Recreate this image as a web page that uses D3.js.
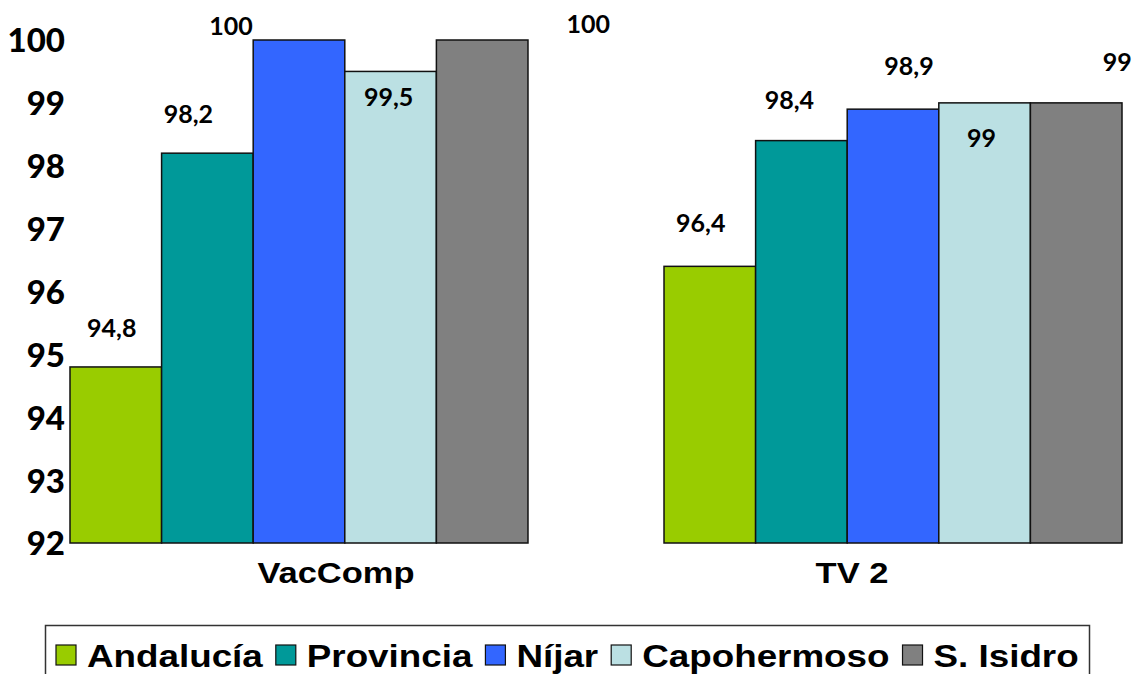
<!DOCTYPE html>
<html><head><meta charset="utf-8">
<script src="https://cdn.jsdelivr.net/npm/d3@7"></script>
<style>
html,body{margin:0;padding:0;background:#fff;}
svg{display:block;}
</style></head>
<body>
<svg id="chart" width="1138" height="674"></svg>
<script>
// ---- data ----
const categories = ["VacComp", "TV 2"];
const seriesNames = ["Andalucía", "Provincia", "Níjar", "Capohermoso", "S. Isidro"];
const andalucia = [94.8, 96.4];
const provincia = [98.2, 98.4];
const nijar = [100, 98.9];
const capohermoso = [99.5, 99];
const sIsidro = [100, 99];
const valueLabels = [
  ["94,8", "98,2", "100", "99,5", "100"],
  ["96,4", "98,4", "98,9", "99", "99"]
];
const yTicks = [92, 93, 94, 95, 96, 97, 98, 99, 100];

// ---- layout / style ----
const colors = ["#99CC00", "#009999", "#3366FF", "#BBE0E3", "#808080"];
// label offsets (dx from bar centre, dy from bar top) as placed in the original
const labelOffsets = [
  [[-4, -30], [-19, -30], [-68, -5], [-2, 35], [106, -7]],
  [[-9, -34], [-12, -32], [16, -34], [-3, 44], [41, -32]]
];
const catLabelDx = [37, -41];

const series = [andalucia, provincia, nijar, capohermoso, sIsidro];
const svg = d3.select("#chart");

const y = d3.scaleLinear().domain([92, 100]).range([543, 40]);
const x0 = d3.scaleBand().domain(categories).range([70, 1122]).paddingInner(0.229).paddingOuter(0);
const x1 = d3.scaleBand().domain(seriesNames).range([0, x0.bandwidth()]).padding(0);

// y axis tick labels
const yAxis = d3.axisLeft(y).tickValues(yTicks).tickSize(0).tickPadding(0).tickFormat(d3.format("d"));
const gy = svg.append("g").attr("transform", "translate(65,0)").call(yAxis);
gy.select(".domain").remove();
gy.selectAll("text")
  .attr("dy", "0.36em")
  .style("font-family", "Lato, 'Open Sans', sans-serif")
  .style("font-weight", 900)
  .style("font-size", "33px")
  .attr("fill", "#000");

// bars
const groups = svg.append("g").selectAll("g").data(categories).join("g")
  .attr("transform", c => `translate(${x0(c)},0)`);

groups.each(function(c, ci) {
  const g = d3.select(this);
  seriesNames.forEach((s, si) => {
    const v = series[si][ci];
    g.append("rect")
      .attr("x", x1(s))
      .attr("y", y(v))
      .attr("width", x1.bandwidth())
      .attr("height", y(92) - y(v))
      .attr("fill", colors[si])
      .attr("stroke", "#111")
      .attr("stroke-width", 1.5);
  });
  seriesNames.forEach((s, si) => {
    const v = series[si][ci];
    const off = labelOffsets[ci][si];
    g.append("text")
      .attr("x", x1(s) + x1.bandwidth() / 2 + off[0])
      .attr("y", y(v) + off[1])
      .attr("text-anchor", "middle")
      .style("font-family", "Lato, 'Open Sans', sans-serif")
      .style("font-weight", 700)
      .style("font-size", "25px")
      .attr("fill", "#000")
      .text(valueLabels[ci][si]);
  });
});

// category labels
categories.forEach((c, ci) => {
  svg.append("text")
    .attr("transform", `translate(${x0(c) + x0.bandwidth() / 2 + catLabelDx[ci]},583) scale(1.15,1)`)
    .attr("text-anchor", "middle")
    .style("font-family", "'Liberation Sans', Arial, sans-serif")
    .style("font-weight", 700)
    .style("font-size", "30px")
    .attr("fill", "#000")
    .text(c);
});

// legend
const leg = svg.append("g");
leg.append("rect")
  .attr("x", 45.5).attr("y", 625.5).attr("width", 1044).attr("height", 80)
  .attr("fill", "#fff").attr("stroke", "#333").attr("stroke-width", 1.5);
let lx = 56;
seriesNames.forEach((s, si) => {
  leg.append("rect")
    .attr("x", lx).attr("y", 645).attr("width", 20).attr("height", 20)
    .attr("fill", colors[si]).attr("stroke", "#111").attr("stroke-width", 1.2);
  const t = leg.append("text")
    .attr("transform", `translate(${lx + 31},667) scale(1.15,1)`)
    .style("font-family", "'Liberation Sans', Arial, sans-serif")
    .style("font-weight", 700)
    .style("font-size", "32px")
    .attr("fill", "#000")
    .text(s);
  const w = t.node().getComputedTextLength() * 1.15;
  lx = lx + 31 + w + 13;
});
</script>
</body></html>
